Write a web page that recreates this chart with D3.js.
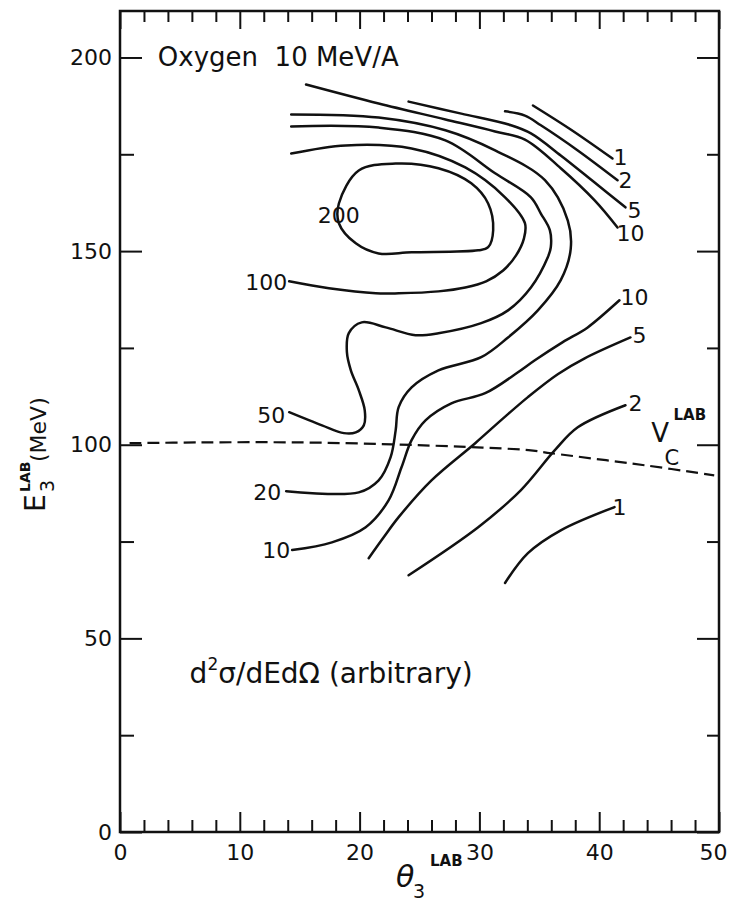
<!DOCTYPE html>
<html><head><meta charset="utf-8">
<script src="https://cdn.jsdelivr.net/npm/d3@7"></script>
<style>
html,body{margin:0;padding:0;background:#fff;}
svg{display:block;}
text{font-family:"DejaVu Sans",sans-serif;fill:#111;}
</style>
</head><body>
<svg id="chart" width="730" height="906"></svg>
<script>
// ---- data (theta_LAB in degrees, E_LAB in MeV) ----
const xMajorTicks = [0,10,20,30,40,50];
const xMinorTicks = d3.range(0,51,2);
const yMajorTicks = [0,50,100,150,200];
const yMinorTicks = [25,75,125,175];

const c200 = [[18.27,162.3],[19.93,170.8],[23.01,172.6],[26.58,171.4],[29.32,167.5],[30.73,162.3],[31.15,155.4],[30.73,151.0],[29.90,150.2],[24.34,149.7],[21.59,149.4],[19.68,152.0],[18.27,157.2]];
const c100 = [[14.29,175.2],[18.85,177.3],[24.34,176.5],[28.82,171.6],[32.14,163.9],[33.80,157.2],[33.72,153.3],[33.06,148.9],[31.98,145.0],[30.56,142.2],[28.82,140.6],[26.58,139.6],[23.26,139.1],[21.35,139.1],[17.44,140.4],[14.12,142.2]];
const c50 = [[14.29,182.2],[21.59,181.9],[27.16,178.6],[31.31,170.1],[34.30,163.9],[35.13,159.7],[35.88,155.4],[35.96,151.0],[35.71,148.4],[34.30,140.6],[32.39,134.7],[30.15,131.4],[26.58,128.8],[24.67,128.3],[22.18,130.3],[20.18,131.6],[19.10,128.8],[18.94,123.9],[19.27,119.2],[19.93,114.1],[20.43,108.9],[20.35,105.0],[19.68,103.2],[18.69,103.0],[16.86,105.0],[14.12,108.4]];
const c20 = [[14.29,185.3],[21.59,184.5],[27.16,181.2],[31.31,176.0],[35.47,168.3],[37.38,157.9],[37.62,150.5],[36.79,142.5],[34.88,134.7],[32.39,127.7],[30.15,122.6],[26.58,119.2],[24.34,114.8],[23.26,109.7],[23.01,103.7],[22.59,96.8],[21.59,90.8],[19.93,87.7],[13.87,88.0]];
const c10Lower = [[14.37,72.8],[17.69,74.8],[20.51,78.7],[22.43,85.7],[23.50,94.2],[24.34,101.2],[25.50,106.3],[27.66,110.7],[30.48,113.3],[33.22,118.7],[34.63,121.8],[36.96,126.5],[39.04,130.3],[41.69,137.3]];
const c5Lower = [[20.76,70.7],[22.01,76.1],[23.26,81.3],[26.00,90.8],[29.65,100.4],[31.98,106.8],[34.05,112.3],[36.54,118.2],[38.79,122.3],[42.61,127.7]];
const c2Lower = [[24.09,66.3],[29.90,78.7],[33.47,88.3],[36.30,98.6],[38.21,104.5],[42.19,110.2]];
const c1Lower = [[32.14,64.3],[34.05,72.0],[36.79,77.9],[41.28,83.9]];
const c10Upper = [[15.53,193.0],[21.59,188.1],[27.16,184.0],[31.31,180.9],[33.80,178.8],[36.79,171.4],[39.62,163.1],[41.53,156.1]];
const c5Upper = [[24.09,188.6],[28.49,185.5],[32.64,182.5],[34.30,180.4],[36.79,174.7],[39.62,167.7],[42.19,161.3]];
const c2Upper = [[32.14,186.1],[33.80,185.0],[35.13,182.5],[38.21,176.0],[41.53,168.3]];
const c1Upper = [[34.47,187.6],[37.62,181.4],[41.11,173.9]];
const vcLine = [[0.8,100.4],[6.6,100.6],[15.0,100.6],[22.7,100.1],[29.1,99.4],[34.1,98.6],[36.0,97.8],[43.8,94.7],[49.6,92.1]];

const openContours = [c100,c50,c20,c10Lower,c5Lower,c2Lower,c1Lower,c10Upper,c5Upper,c2Upper,c1Upper];
const closedContours = [c200];

const contourLabels = [
  {t:"200",x:18.27,y:159.2},{t:"100",x:12.21,y:141.9},{t:"50",x:12.62,y:107.6},
  {t:"20",x:12.29,y:87.7},{t:"10",x:13.04,y:72.8},
  {t:"1",x:41.78,y:174.2},{t:"2",x:42.19,y:168.3},{t:"5",x:42.94,y:160.5},{t:"10",x:42.61,y:154.6},
  {t:"10",x:42.94,y:138.1},{t:"5",x:43.36,y:128.3},{t:"2",x:43.02,y:110.7},{t:"1",x:41.69,y:83.9}
];

// ---- layout ----
const svg = d3.select("#chart");
svg.append("rect").attr("width",730).attr("height",906).attr("fill","#fff");
const x = d3.scaleLinear().domain([0,50]).range([120,719]);
const y = d3.scaleLinear().domain([0,212]).range([832,11]);

function axisStyle(g){
  g.select(".domain").remove();
  g.selectAll("line").attr("stroke","#111").attr("stroke-width",2);
  g.selectAll("text").attr("font-family","DejaVu Sans").attr("font-size",22).attr("fill","#111");
}
// bottom
svg.append("g").attr("transform",`translate(0,${y(0)})`)
  .call(d3.axisBottom(x).tickValues(xMinorTicks.filter(v=>v%10)).tickSize(-12).tickFormat("")).call(axisStyle);
const bx = svg.append("g").attr("transform",`translate(0,${y(0)})`)
  .call(d3.axisBottom(x).tickValues(xMajorTicks).tickSize(-20).tickPadding(12).tickFormat(d3.format("d"))).call(axisStyle);
bx.selectAll(".tick text").filter(d=>d===50).attr("dx",-6);
// top
svg.append("g").attr("transform",`translate(0,${y.range()[1]})`)
  .call(d3.axisTop(x).tickValues(xMinorTicks.filter(v=>v%10)).tickSize(-11).tickFormat("")).call(axisStyle);
svg.append("g").attr("transform",`translate(0,${y.range()[1]})`)
  .call(d3.axisTop(x).tickValues(xMajorTicks).tickSize(-18).tickFormat("")).call(axisStyle);
// left
svg.append("g").attr("transform",`translate(${x(0)},0)`)
  .call(d3.axisLeft(y).tickValues(yMinorTicks).tickSize(-14).tickFormat("")).call(axisStyle);
svg.append("g").attr("transform",`translate(${x(0)},0)`)
  .call(d3.axisLeft(y).tickValues(yMajorTicks).tickSize(-22).tickPadding(8).tickFormat(d3.format("d"))).call(axisStyle);
// right
svg.append("g").attr("transform",`translate(${x(50)},0)`)
  .call(d3.axisRight(y).tickValues(yMinorTicks).tickSize(-12).tickFormat("")).call(axisStyle);
svg.append("g").attr("transform",`translate(${x(50)},0)`)
  .call(d3.axisRight(y).tickValues(yMajorTicks).tickSize(-22).tickFormat("")).call(axisStyle);

// frame
svg.append("rect").attr("x",x(0)).attr("y",y.range()[1]).attr("width",x(50)-x(0)).attr("height",y(0)-y.range()[1])
  .attr("fill","none").attr("stroke","#111").attr("stroke-width",2.5);

// contours
const line = d3.line().x(d=>x(d[0])).y(d=>y(d[1])).curve(d3.curveCatmullRom.alpha(0.5));
const lineClosed = d3.line().x(d=>x(d[0])).y(d=>y(d[1])).curve(d3.curveCatmullRomClosed.alpha(0.5));
svg.append("g").selectAll("path").data(openContours).join("path")
  .attr("d",line).attr("fill","none").attr("stroke","#111").attr("stroke-width",2.5).attr("stroke-linecap","round");
svg.append("g").selectAll("path").data(closedContours).join("path")
  .attr("d",lineClosed).attr("fill","none").attr("stroke","#111").attr("stroke-width",2.5);
// V_C dashed line
svg.append("path").datum(vcLine).attr("d",line).attr("fill","none").attr("stroke","#111")
  .attr("stroke-width",2.2).attr("stroke-dasharray","12,6");

// contour labels
svg.append("g").selectAll("text").data(contourLabels).join("text")
  .attr("x",d=>x(d.x)).attr("y",d=>y(d.y)).attr("text-anchor","middle").attr("dominant-baseline","central")
  .attr("font-size",22).text(d=>d.t);

// title
svg.append("text").attr("x",x(3.16)).attr("y",y(200)).attr("dominant-baseline","central")
  .attr("font-size",26).attr("xml:space","preserve").text("Oxygen  10 MeV/A");

// d2sigma annotation
const ann = svg.append("text").attr("x",x(5.81)).attr("y",y(38.5)).attr("font-size",28);
ann.append("tspan").text("d");
ann.append("tspan").attr("font-size",17).attr("dy",-13).text("2");
ann.append("tspan").attr("dy",13).text("σ/dEdΩ (arbitrary)");

// V_C^LAB
svg.append("text").attr("x",x(44.35)).attr("y",y(100.7)).attr("font-size",26).text("V");
svg.append("text").attr("x",x(45.45)).attr("y",y(94.8)).attr("font-size",21).text("C");
svg.append("text").attr("x",x(46.2)).attr("y",y(106.4)).attr("font-size",15).attr("font-weight","bold")
  .attr("font-family","Liberation Sans").text("LAB");

// x-axis title
svg.append("text").attr("x",396).attr("y",887).attr("font-size",30).attr("font-style","italic").text("θ");
svg.append("text").attr("x",413).attr("y",898).attr("font-size",19).text("3");
svg.append("text").attr("x",430).attr("y",866).attr("font-size",15).attr("font-weight","bold")
  .attr("font-family","Liberation Sans").text("LAB");

// y-axis title (rotated)
const yt = svg.append("g").attr("transform","translate(45,512) rotate(-90)");
yt.append("text").attr("x",0).attr("y",0).attr("font-size",28).text("E");
yt.append("text").attr("x",20).attr("y",9).attr("font-size",19).text("3");
yt.append("text").attr("x",20).attr("y",-15).attr("font-size",14).attr("font-weight","bold")
  .attr("font-family","Liberation Sans").text("LAB");
yt.append("text").attr("x",50).attr("y",1).attr("font-size",22).attr("font-family","Liberation Sans").text("(MeV)");
</script>
</body></html>
